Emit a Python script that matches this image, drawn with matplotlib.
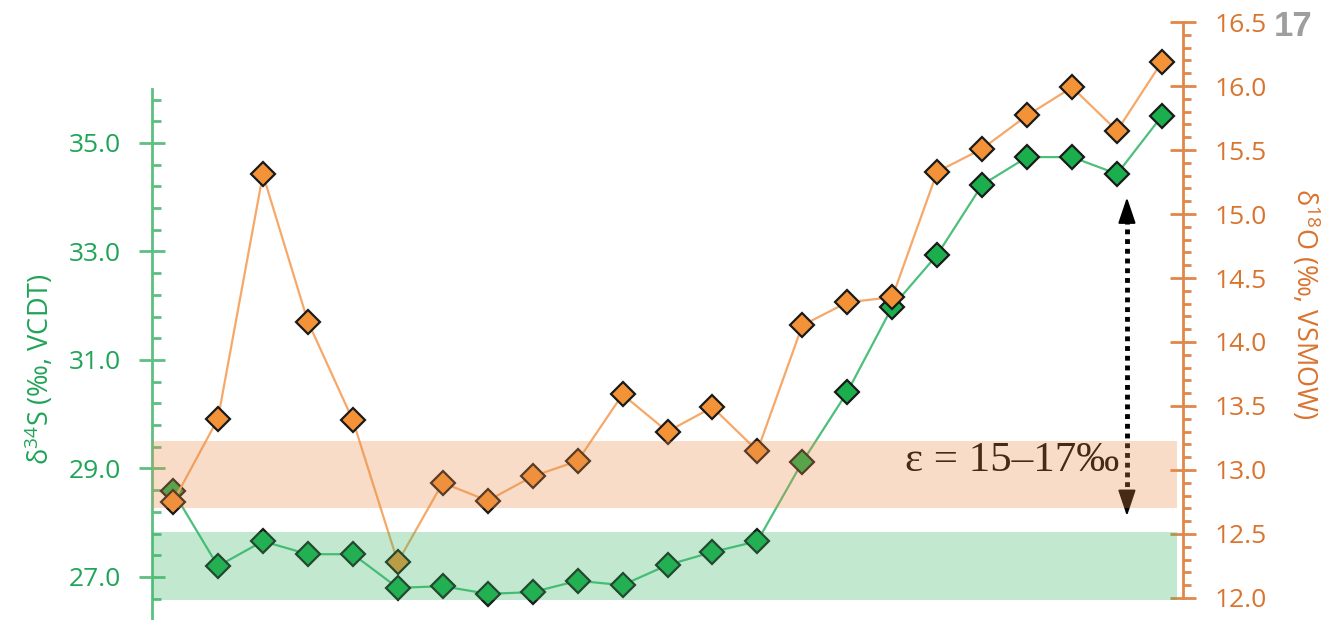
#Isotopos de enxofre e oxigenio ao longo da sequencia de amostras
import numpy as np
import matplotlib
matplotlib.use("Agg")
import matplotlib.pyplot as plt
import matplotlib.ticker as mticker
import matplotlib.transforms as mtransforms
from matplotlib.patches import Rectangle

plt.rcParams['font.family'] = ['Open Sans', 'DejaVu Sans']
plt.rcParams['mathtext.fontset'] = 'custom'
plt.rcParams['mathtext.rm'] = 'Open Sans'

# valores
d34S = [28.58, 27.20, 27.66, 27.42, 27.42, 26.80, 26.83, 26.69, 26.72, 26.93, 26.85, 27.22,
        27.46, 27.66, 29.12, 30.41, 31.98, 32.94, 34.23, 34.74, 34.74, 34.43, 35.50]
d18O = [12.75, 13.40, 15.31, 14.16, 13.39, 12.28, 12.90, 12.76, 12.95, 13.07, 13.59, 13.30,
        13.49, 13.15, 14.13, 14.31, 14.35, 15.33, 15.51, 15.77, 15.99, 15.65, 16.19]
banda_S = (26.58, 27.83)      # faixa verde (d34S)
banda_O = (12.70, 13.23)      # faixa laranja (d18O)
seta_O = (12.64, 15.13)       # seta do epsilon
texto_eps = "\u03b5 = 15\u201317\u2030"
numero_fig = "17"

VERDE = '#1bae4c'
VERDE_LINHA = '#4cc07a'
VERDE_TXT = '#20a457'
VERDE_EIXO = '#5dbf80'
LARANJA = '#f39237'
LARANJA_LINHA = '#f7a868'
LARANJA_TXT = '#d9742f'
LARANJA_EIXO = '#e0884a'

x = np.arange(len(d34S))

fig = plt.figure(figsize=(13.25, 6.2), dpi=100)
ax = fig.add_axes([152 / 1325, 0, 1031 / 1325, 1])
ax2 = ax.twinx()

ax.set_xlim(-0.467, len(x) - 1 + 0.467)
ax.set_ylim(26.207, 37.636)
ax2.set_ylim(11.828, 16.672)

# serie d34S (eixo esquerdo)
ax.plot(x, d34S, color=VERDE_LINHA, lw=1.6, marker='D', ms=12.5,
        mfc=VERDE, mec='#1a1a1a', mew=1.6, zorder=3)
# serie d18O (eixo direito)
ax2.plot(x, d18O, color=LARANJA_LINHA, lw=1.6, marker='D', ms=12.5,
         mfc=LARANJA, mec='#1a1a1a', mew=1.6, zorder=3)

# seta do fracionamento: linha pontilhada + duas pontas
xs = 21.22
ax2.plot([xs, xs], [seta_O[0] + 0.08, seta_O[1] - 0.08], color='black', lw=3.5,
         ls=(0, (1, 1)), dash_capstyle='butt', zorder=2)
for ponta, base in ((seta_O[1], seta_O[1] - 0.16), (seta_O[0], seta_O[0] + 0.16)):
    ax2.annotate('', xy=(xs, ponta), xytext=(xs, base),
                 arrowprops=dict(arrowstyle='-|>,head_length=0.8,head_width=0.27',
                                 color='black', lw=1.5, mutation_scale=20,
                                 shrinkA=0, shrinkB=0), zorder=2)
ax2.text(21.06, 12.995, texto_eps, ha='right', va='baseline', fontsize=31,
         family=['Liberation Serif', 'DejaVu Serif'], color='black', zorder=2)

# faixas por cima de tudo (transparentes)
misto = mtransforms.blended_transform_factory(ax2.transAxes, ax.transData)
ax2.add_patch(Rectangle((0, banda_S[0]), 0.994, banda_S[1] - banda_S[0], transform=misto,
                        facecolor='#37b666', alpha=0.3, lw=0, zorder=6))
ax2.add_patch(Rectangle((0, banda_O[0]), 0.994, banda_O[1] - banda_O[0],
                        transform=mtransforms.blended_transform_factory(ax2.transAxes, ax2.transData),
                        facecolor='#e88e48', alpha=0.3, lw=0, zorder=6))

# eixos
for a in (ax, ax2):
    a.spines['top'].set_visible(False)
    a.spines['bottom'].set_visible(False)
    a.set_xticks([])
ax.spines['right'].set_visible(False)
ax2.spines['left'].set_visible(False)

ax.spines['left'].set_color(VERDE_EIXO)
ax.spines['left'].set_linewidth(2)
ax.spines['left'].set_bounds(26.207, 36.0)
ax.yaxis.set_major_locator(mticker.FixedLocator([27, 29, 31, 33, 35]))
ax.yaxis.set_minor_locator(mticker.FixedLocator(np.arange(26.2, 36.0, 0.4)))
ax.yaxis.set_major_formatter(mticker.FormatStrFormatter('%.1f'))
ax.tick_params(axis='y', which='major', direction='inout', length=19, width=2,
               color=VERDE_EIXO, labelcolor=VERDE_TXT, labelsize=19, pad=13)
ax.tick_params(axis='y', which='minor', direction='in', length=6.5, width=2, color=VERDE_EIXO)

ax2.spines['right'].set_color(LARANJA_EIXO)
ax2.spines['right'].set_linewidth(2)
ax2.spines['right'].set_bounds(12.0, 16.5)
ax2.yaxis.set_major_locator(mticker.FixedLocator(np.arange(12.0, 16.51, 0.5)))
ax2.yaxis.set_minor_locator(mticker.FixedLocator(np.arange(12.0, 16.51, 0.1)))
ax2.yaxis.set_major_formatter(mticker.FormatStrFormatter('%.1f'))
ax2.tick_params(axis='y', which='major', direction='inout', length=19, width=2,
                color=LARANJA_EIXO, labelcolor=LARANJA_TXT, labelsize=19, pad=13)
ax2.tick_params(axis='y', which='minor', direction='out', length=5.5, width=2, color=LARANJA_EIXO)

# rotulos dos eixos
fig.text(40 / 1325, 1 - 369 / 620, r'$\mathregular{\delta^{34}}$S (‰, VCDT)', rotation=90,
         ha='center', va='center', fontsize=19.5, color=VERDE_TXT)
fig.text(1305 / 1325, 1 - 304 / 620, r'$\mathregular{\delta^{18}}$O (‰, VSMOW)', rotation=270,
         ha='center', va='center', fontsize=19.5, color=LARANJA_TXT)

fig.text(1293 / 1325, 1 - 27 / 620, numero_fig, ha='center', va='center', fontsize=25,
         fontweight='bold', color='#9e9e9e', family=['Liberation Sans', 'DejaVu Sans'])

fig.savefig('out.png', dpi=100)
